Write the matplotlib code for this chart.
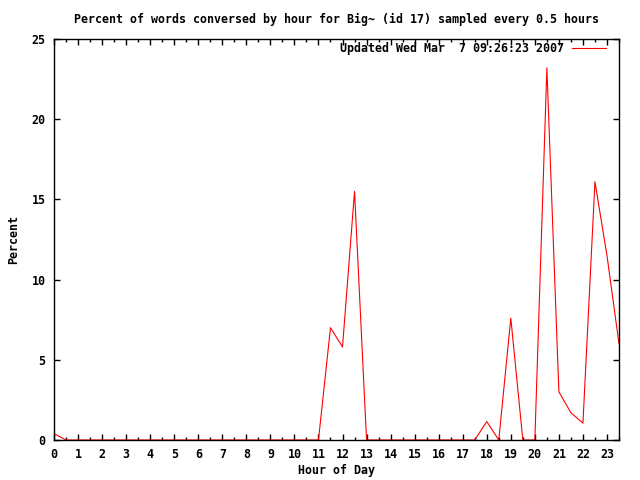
import matplotlib
matplotlib.use("Agg")
import matplotlib.pyplot as plt
import numpy as np

hours = [i * 0.5 for i in range(48)]
percent = [0.4, 0, 0, 0, 0, 0, 0, 0, 0, 0,   # 0 - 4.5
           0, 0, 0, 0, 0, 0, 0, 0, 0, 0,     # 5 - 9.5
           0, 0, 0, 7.0, 5.8, 15.5, 0, 0, 0, 0,  # 10 - 14.5
           0, 0, 0, 0, 0, 0, 1.15, 0, 7.6, 0,    # 15 - 19.5
           0, 23.2, 3.0, 1.7, 1.05, 16.1, 11.5, 6.0]  # 20 - 23.5
xticks = list(range(24))
yticks = [0, 5, 10, 15, 20, 25]
title = "Percent of words conversed by hour for Big~ (id 17) sampled every 0.5 hours"
legend_label = "Updated Wed Mar  7 09:26:23 2007"

font = dict(family="DejaVu Sans Mono", weight="bold", size=8.4)

fig = plt.figure(figsize=(6.4, 4.8), dpi=100)
L, R, T, B = 54, 619, 39, 440
ax = fig.add_axes([L/640, (480-B)/480, (R-L)/640, (B-T)/480])
ax.plot(hours, percent, color="red", linewidth=0.8, label=legend_label)
ax.set_xlim(0, 23.5)
ax.set_ylim(0, 25)
ax.set_xticks(xticks)
ax.set_xticks(np.arange(0, 23.51, 0.5), minor=True)
ax.set_yticks(yticks)
ax.tick_params(which="both", direction="in", top=True, right=True, width=1, color="black")
ax.tick_params(which="major", length=4, pad=6)
ax.tick_params(which="minor", length=2.5)
for lab in ax.get_xticklabels() + ax.get_yticklabels():
    lab.set_fontfamily(font["family"]); lab.set_fontweight("bold"); lab.set_fontsize(font["size"])
for s in ax.spines.values():
    s.set_linewidth(1)
ax.set_xlabel("Hour of Day", fontdict=font, labelpad=2)
ax.set_ylabel("Percent", fontdict=font, labelpad=8)
fig.text((L + R) / 2 / 640, 1 - 19/480, title, ha="center", va="center", fontdict=font)
leg = ax.legend(loc="upper right", frameon=False, markerfirst=False,
                prop=dict(family="DejaVu Sans Mono", weight="bold", size=8.4),
                handlelength=2.9, handletextpad=0.7, borderpad=0, borderaxespad=0,
                bbox_to_anchor=((606 - L) / (R - L), 1 - (42 - T) / (B - T)))
fig.savefig("out.png", dpi=100)
